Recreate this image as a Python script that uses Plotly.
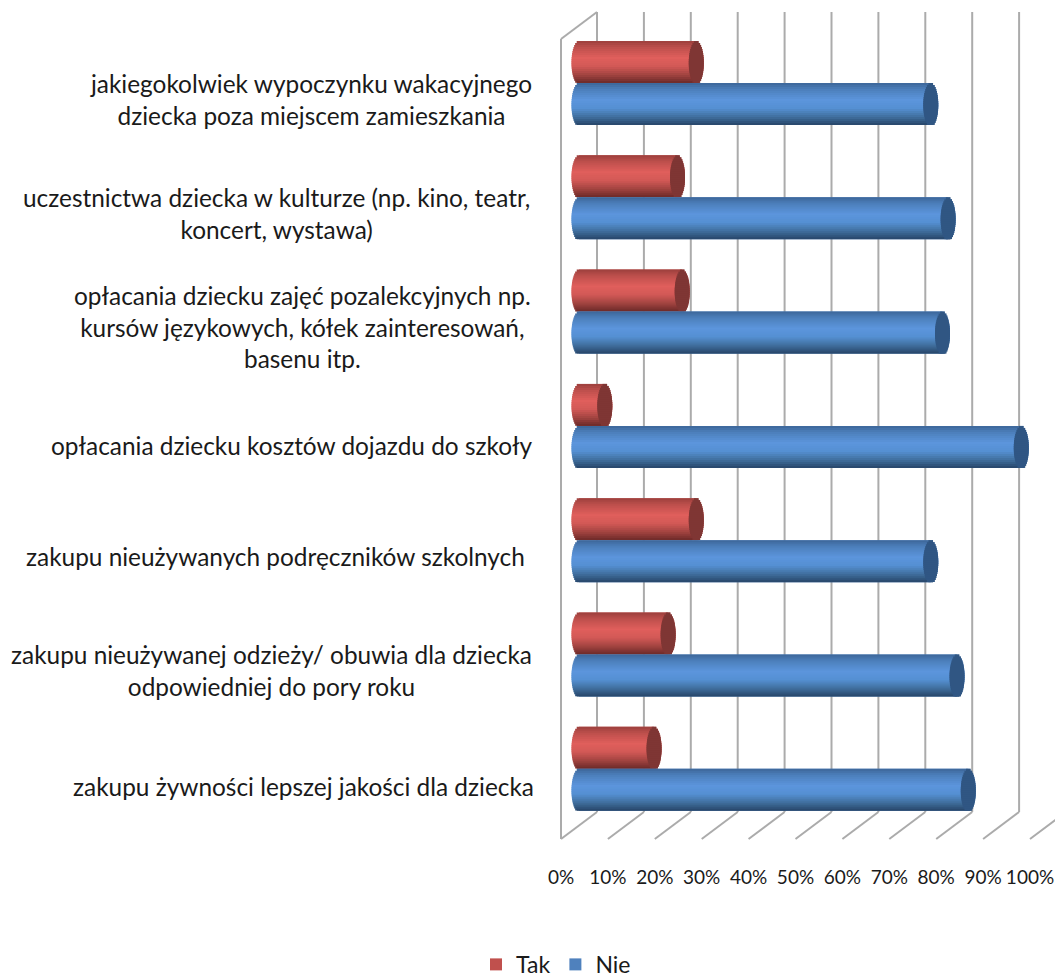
import math
import plotly.graph_objects as go

categories = [
    "jakiegokolwiek wypoczynku wakacyjnego<br>dziecka poza miejscem zamieszkania",
    "uczestnictwa dziecka w kulturze (np. kino, teatr,<br>koncert, wystawa)",
    "opłacania dziecku zajęć pozalekcyjnych np.<br>kursów językowych, kółek zainteresowań,<br>basenu itp.",
    "opłacania dziecku kosztów dojazdu do szkoły",
    "zakupu nieużywanych podręczników szkolnych",
    "zakupu nieużywanej odzieży/ obuwia dla dziecka<br>odpowiedniej do pory roku",
    "zakupu żywności lepszej jakości dla dziecka",
]
tak = [25, 21, 22, 5.5, 25, 19, 16]
nie = [75, 78.7, 77.5, 94.3, 75, 80.6, 83]
ticks = [0, 10, 20, 30, 40, 50, 60, 70, 80, 90, 100]
tick_labels = ["0%", "10%", "20%", "30%", "40%", "50%", "60%", "70%", "80%", "90%", "100%"]

# layout in pixels
W, H = 1055, 980
PLOT_L, PLOT_B = 556, 862
X0_PX, PX_PER_UNIT = 561, 4.69
Y0_PX, PITCH = 83, 114.3
label_cx = [311, 276, 302, 292, 275, 271, 303]
label_cy = [99, 213, 327, 445, 556, 670, 786]

def yu(px):
    return (px - Y0_PX) / PITCH

DEPTH_X = 36 / PX_PER_UNIT
BAR_BASE = 18 / PX_PER_UNIT
CAP_A = 7.5 / PX_PER_UNIT
BAR_H = 42 / PITCH
N = 21

def hex2rgb(h):
    return [int(h[i:i + 2], 16) for i in (1, 3, 5)]

def grad(stops, t):
    for (t0, c0), (t1, c1) in zip(stops, stops[1:]):
        if t <= t1:
            f = (t - t0) / (t1 - t0)
            a, b = hex2rgb(c0), hex2rgb(c1)
            return "rgb(%d,%d,%d)" % tuple(round(a[i] + (b[i] - a[i]) * f) for i in range(3))
    return stops[-1][1]

red_stops = [(0, "#9c3f3c"), (0.15, "#bd4f4c"), (0.4, "#e05f5c"), (0.6, "#d25956"), (0.8, "#a34441"), (1, "#6b2a28")]
blue_stops = [(0, "#3d6699"), (0.15, "#4c7fbb"), (0.4, "#5c95dc"), (0.6, "#5590d3"), (0.8, "#41709f"), (1, "#274569")]

fig = go.Figure()
ypos = list(range(len(categories)))

def add_series(name, values, legend_color, stops, cap_color, top_offset):
    fig.add_trace(go.Bar(
        name=name, orientation="h", y=ypos, x=values, base=[BAR_BASE] * len(values),
        width=BAR_H, offset=top_offset, marker=dict(color=legend_color, line_width=0),
        hoverinfo="skip", showlegend=True,
    ))
    sw = BAR_H / N
    for k in range(N):
        t = (k + 0.5) / N
        s = math.sqrt(max(0, 1 - (2 * t - 1) ** 2))
        fig.add_trace(go.Bar(
            orientation="h", y=ypos, x=[v + 2 * CAP_A * s for v in values],
            base=[BAR_BASE - CAP_A * s] * len(values),
            width=sw * (1.9 if k < N - 1 else 1), offset=top_offset + k * sw,
            marker=dict(color=grad(stops, t), line_width=0),
            hoverinfo="skip", showlegend=False,
        ))
    for k in range(N):
        t = (k + 0.5) / N
        s = math.sqrt(max(0, 1 - (2 * t - 1) ** 2))
        fig.add_trace(go.Bar(
            orientation="h", y=ypos, x=[2 * CAP_A * s] * len(values),
            base=[BAR_BASE + v - CAP_A * s for v in values],
            width=sw * (1.9 if k < N - 1 else 1), offset=top_offset + k * sw,
            marker=dict(color=cap_color, line_width=0),
            hoverinfo="skip", showlegend=False,
        ))

add_series("Tak", tak, "#c0504d", red_stops, "#7f3634", -BAR_H)
add_series("Nie", nie, "#4f81bd", blue_stops, "#305683", 0)

GRID = "#ababab"
back_top, back_bot = yu(12), yu(812)
front_top, front_bot = yu(39), yu(839)
shapes = []
def line(x0, y0, x1, y1, w=2):
    shapes.append(dict(type="line", xref="x", yref="y", x0=x0, y0=y0, x1=x1, y1=y1,
                       layer="below", line=dict(color=GRID, width=w)))
for tk in ticks:
    line(tk + DEPTH_X, back_top, tk + DEPTH_X, back_bot)
    line(tk, front_bot, tk + DEPTH_X, back_bot)
line(0, front_top, 0, front_bot)
line(0, front_top, DEPTH_X, back_top)

annotations = []
for text, cx, cy in zip(categories, label_cx, label_cy):
    annotations.append(dict(
        text=text, xref="paper", yref="paper",
        x=(cx - PLOT_L) / (W - PLOT_L), y=1 - cy / PLOT_B,
        xanchor="center", yanchor="middle", align="center", showarrow=False,
        font=dict(family="Lato", size=24.4, color="#1a1a1a"),
    ))

fig.update_layout(
    width=W, height=H, autosize=False,
    barmode="overlay", plot_bgcolor="white", paper_bgcolor="white",
    margin=dict(l=PLOT_L, r=0, t=0, b=H - PLOT_B, pad=0, autoexpand=False),
    xaxis=dict(range=[(PLOT_L - X0_PX) / PX_PER_UNIT, (W - X0_PX) / PX_PER_UNIT],
               tickmode="array", tickvals=ticks, ticktext=tick_labels, tickangle=0,
               showgrid=False, zeroline=False, showline=False, ticks="", automargin=False,
               ticklabelstandoff=2,
               tickfont=dict(family="Lato", size=19, color="#1a1a1a")),
    yaxis=dict(range=[yu(PLOT_B), yu(0)], visible=False),
    shapes=shapes, annotations=annotations,
    legend=dict(orientation="h", x=(476 - PLOT_L) / (W - PLOT_L), y=-0.0939, xanchor="left", yanchor="top",
                font=dict(family="Lato", size=23, color="#1a1a1a"), itemwidth=30, traceorder="normal"),
)

fig.write_html("out.html", config={"displayModeBar": False},
               post_script="document.body.style.margin='0';document.documentElement.style.overflow='hidden';")
